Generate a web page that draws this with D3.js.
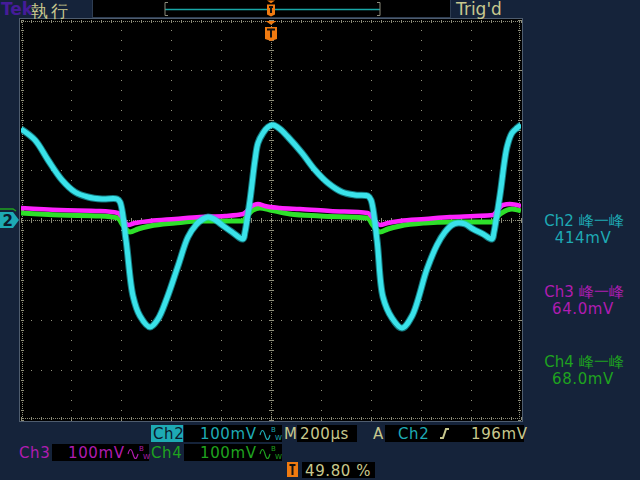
<!DOCTYPE html>
<html>
<head>
<meta charset="utf-8">
<script src="https://cdn.jsdelivr.net/npm/d3@7/dist/d3.min.js"></script>
<style>
html,body{margin:0;padding:0;background:#15233a;}
svg{display:block;}
text{font-family:"DejaVu Sans",sans-serif;}
</style>
</head>
<body>
<svg id="scope" width="640" height="480"></svg>
<script>
// ---------------- DATA ----------------
// time in µs (200 µs/div, trigger at centre), voltage in mV (100 mV/div)
const ch2Time = [-1000,-944,-892,-836,-784,-732,-676,-616,-604,-580,-552,-524,-484,-452,-416,-372,-332,-300,-272,-252,-228,-196,-156,-112,-104,-84,-64,-52,-32,-12,8,36,68,124,176,228,284,336,388,400,424,448,484,524,564,624,664,696,724,748,776,808,848,884,892,916,944,964,984,1000];
const ch2Mv   = [182,160,120,80,56,46,42,42,36,-40,-152,-192,-214,-198,-156,-92,-34,-10,2,6,2,-10,-24,-38,-24,40,120,154,174,186,190,182,166,134,100,74,56,50,48,40,-40,-154,-196,-216,-192,-98,-50,-24,-10,-6,-8,-18,-28,-38,-24,50,146,174,184,190];

const ch3Time = [-1000,-844,-684,-612,-596,-572,-544,-484,-384,-284,-184,-112,-96,-76,-52,-24,36,116,236,388,404,436,468,516,616,716,816,888,904,928,956,1000];
const ch3Mv   = [22,18,16,12,4,-12,-8,-4,0,4,6,10,16,26,30,26,22,20,16,12,4,-12,-8,-4,0,4,6,8,16,28,30,26];

const ch4Time = [-1000,-844,-684,-612,-596,-564,-532,-484,-384,-284,-184,-112,-96,-72,-44,-4,76,196,388,404,436,468,516,616,716,816,888,904,936,964,1000];
const ch4Mv   = [14,10,8,4,-8,-24,-18,-12,-6,-2,-2,-2,8,20,24,20,12,8,4,-8,-24,-18,-12,-6,-4,-4,-4,6,18,22,18];

const xDivTicks = d3.range(-1000, 1001, 200);   // 10 horizontal divisions
const yDivTicks = d3.range(-400, 401, 100);     // 8 vertical divisions

const measureNames  = ["Ch2 峰一峰", "Ch3 峰一峰", "Ch4 峰一峰"];
const measureValues = ["414mV", "64.0mV", "68.0mV"];
const scaleLabels   = ["100mV", "100mV", "100mV"];
const timebaseLabel = "200µs";
const triggerLevel  = "196mV";
const triggerPos    = "49.80 %";

// ---------------- COLOURS ----------------
const C = {
  bg:"#15233a", cyan:"#3ae2ea", mag:"#ff22ff", grn:"#2ee02a",
  tTeal:"#1eaab4", tMag:"#b01cb0", tGrn:"#1fa21f", khaki:"#c8c88e",
  orange:"#f07a10", grid:"#8e8e7a", tek:"#451c98"
};

const svg = d3.select("#scope");
svg.append("rect").attr("width",640).attr("height",480).attr("fill",C.bg);

// ---------------- SCALES ----------------
const x = d3.scaleLinear().domain([-1000,1000]).range([21,521]);
const y = d3.scaleLinear().domain([-400,400]).range([420,20]);

// graticule
const g = svg.append("g");
g.append("rect").attr("x",x(-1000)-1.5).attr("y",y(400)-1.5)
  .attr("width",x(1000)-x(-1000)+3).attr("height",y(-400)-y(400)+3)
  .attr("fill","#000").attr("stroke","#4e5c6e").attr("stroke-width",1);

const minorX = d3.range(-1000,1001,40);
const minorY = d3.range(-400,401,20);
xDivTicks.slice(1,-1).forEach(t=>{
  g.selectAll(null).data(d3.range(-400,401,20)).enter().append("rect")
    .attr("x",Math.round(x(t))).attr("y",d=>Math.round(y(d))).attr("width",1).attr("height",1)
    .attr("fill",C.grid);
});
yDivTicks.slice(1,-1).forEach(v=>{
  g.selectAll(null).data(d3.range(-1000,1001,40)).enter().append("rect")
    .attr("x",d=>Math.round(x(d))).attr("y",Math.round(y(v))).attr("width",1).attr("height",1)
    .attr("fill",C.grid);
});
g.selectAll(null).data(d3.range(-1000,1001,8)).enter().append("rect")
  .attr("x",d=>Math.round(x(d))).attr("y",Math.round(y(0))).attr("width",1).attr("height",1).attr("fill",C.grid);
g.selectAll(null).data(d3.range(-400,401,4)).enter().append("rect")
  .attr("x",Math.round(x(0))).attr("y",d=>Math.round(y(d))).attr("width",1).attr("height",1).attr("fill",C.grid);
g.selectAll(null).data(minorX).enter().append("line")
  .attr("x1",d=>Math.round(x(d))+0.5).attr("x2",d=>Math.round(x(d))+0.5)
  .attr("y1",y(0)-2).attr("y2",y(0)+3).attr("stroke",C.grid).attr("stroke-width",1);
g.selectAll(null).data(minorY).enter().append("line")
  .attr("y1",d=>Math.round(y(d))+0.5).attr("y2",d=>Math.round(y(d))+0.5)
  .attr("x1",x(0)-2).attr("x2",x(0)+3).attr("stroke",C.grid).attr("stroke-width",1);
g.selectAll(null).data(d3.range(-1000,1001,8)).enter().append("rect")
  .attr("x",d=>Math.round(x(d))).attr("y",y(400)+1).attr("width",1).attr("height",1).attr("fill",C.grid);
g.selectAll(null).data(d3.range(-1000,1001,8)).enter().append("rect")
  .attr("x",d=>Math.round(x(d))).attr("y",y(-400)-2).attr("width",1).attr("height",1).attr("fill",C.grid);
g.selectAll(null).data(d3.range(-400,401,4)).enter().append("rect")
  .attr("x",x(-1000)+1).attr("y",d=>Math.round(y(d))).attr("width",1).attr("height",1).attr("fill",C.grid);
g.selectAll(null).data(d3.range(-400,401,4)).enter().append("rect")
  .attr("x",x(1000)-2).attr("y",d=>Math.round(y(d))).attr("width",1).attr("height",1).attr("fill",C.grid);
g.selectAll(null).data(minorX).enter().append("line")
  .attr("x1",d=>Math.round(x(d))+0.5).attr("x2",d=>Math.round(x(d))+0.5)
  .attr("y1",y(400)).attr("y2",y(400)+3).attr("stroke",C.grid);
g.selectAll(null).data(minorX).enter().append("line")
  .attr("x1",d=>Math.round(x(d))+0.5).attr("x2",d=>Math.round(x(d))+0.5)
  .attr("y1",y(-400)-3).attr("y2",y(-400)).attr("stroke",C.grid);
g.selectAll(null).data(minorY).enter().append("line")
  .attr("y1",d=>Math.round(y(d))+0.5).attr("y2",d=>Math.round(y(d))+0.5)
  .attr("x1",x(-1000)).attr("x2",x(-1000)+3).attr("stroke",C.grid);
g.selectAll(null).data(minorY).enter().append("line")
  .attr("y1",d=>Math.round(y(d))+0.5).attr("y2",d=>Math.round(y(d))+0.5)
  .attr("x1",x(1000)-3).attr("x2",x(1000)).attr("stroke",C.grid);

// ---------------- TRACES ----------------
svg.append("clipPath").attr("id","plotclip").append("rect")
  .attr("x",x(-1000)).attr("y",y(400)).attr("width",x(1000)-x(-1000)).attr("height",y(-400)-y(400));
const traces = svg.append("g").attr("clip-path","url(#plotclip)");
const line = d3.line().x(d=>x(d[0])).y(d=>y(d[1])).curve(d3.curveMonotoneX);
const line2 = d3.line().x(d=>x(d[0])).y(d=>y(d[1])).curve(d3.curveCatmullRom.alpha(0.5));
const zip = (a,b)=>a.map((t,i)=>[t,b[i]]);

traces.append("path").datum(zip(ch4Time,ch4Mv)).attr("d",line)
  .attr("fill","none").attr("stroke",C.grn).attr("stroke-width",5).attr("stroke-linejoin","round");
traces.append("path").datum(zip(ch3Time,ch3Mv)).attr("d",line)
  .attr("fill","none").attr("stroke",C.mag).attr("stroke-width",4.5).attr("stroke-linejoin","round")
  .attr("transform","translate(0,-1)");
traces.append("path").datum(zip(ch2Time,ch2Mv)).attr("d",line2)
  .attr("fill","none").attr("stroke","#22c8d2").attr("stroke-width",7).attr("stroke-opacity",0.6).attr("stroke-linejoin","round");
traces.append("path").datum(zip(ch2Time,ch2Mv)).attr("d",line2)
  .attr("fill","none").attr("stroke",C.cyan).attr("stroke-width",5).attr("stroke-linejoin","round");

// ---------------- TOP BAR ----------------
svg.append("text").attr("x",1).attr("y",15).attr("fill",C.tek)
  .attr("font-family","Liberation Sans").attr("font-size",17).attr("font-weight","bold").text("Tek");
svg.append("text").attr("x",31).attr("y",17).attr("fill",C.khaki)
  .attr("font-family","Noto Sans CJK SC").attr("font-size",17).attr("letter-spacing",3).text("執行");
svg.append("rect").attr("x",92.5).attr("y",-1).attr("width",358).attr("height",18.5)
  .attr("fill","#000").attr("stroke","#2e3d52");
const rec0 = x(-1000) + (x(1000)-x(-1000))*0.288, rec1 = x(-1000) + (x(1000)-x(-1000))*0.718;
svg.append("line").attr("x1",rec0).attr("x2",rec1).attr("y1",9.5).attr("y2",9.5)
  .attr("stroke","#19a7a7").attr("stroke-width",1.5);
[[rec0,1],[rec1,-1]].forEach(([px,dir])=>{
  svg.append("path").attr("d",`M${px+3*dir},2.5 H${px} V15.5 H${px+3*dir}`)
    .attr("fill","none").attr("stroke","#8a8a7a");
});
function trigMarker(cx, ty, th, by, bh, bw){
  svg.append("path").attr("d",`M${cx-th},${ty} L${cx+th},${ty} L${cx},${ty+th*0.7} Z`).attr("fill",C.orange);
  svg.append("path").attr("d",`M${cx-bw/2},${by} H${cx+bw/2} V${by+bh} L${cx},${by+bh+2} L${cx-bw/2},${by+bh} Z`).attr("fill",C.orange);
  svg.append("path").attr("d",`M${cx-bw/2+2},${by+2.5} H${cx+bw/2-2} M${cx},${by+2.5} V${by+bh-1.5}`)
    .attr("stroke","#111").attr("stroke-width",2).attr("fill","none");
}
trigMarker(x(0), 0.5, 4, 4.5, 10, 8);
trigMarker(x(0), 21, 5.5, 27, 12, 12);
svg.append("text").attr("x",456).attr("y",15).attr("fill",C.khaki).attr("font-size",17).text("Trig'd");

// ---------------- CHANNEL 2 GROUND MARKER ----------------
const gy = y(0);
svg.append("path").attr("d",`M0,${gy-11} H13 L16,${gy-9}`).attr("fill","none").attr("stroke",C.tGrn).attr("stroke-width",1.5);
svg.append("path").attr("d",`M0,${gy-8} H13 L19,${gy} L13,${gy+8} H0 Z`).attr("fill",C.tTeal);
svg.append("text").attr("x",2.5).attr("y",gy+6).attr("fill","#0b1a2c").attr("font-size",15).attr("font-weight","bold").text("2");

// ---------------- RIGHT MEASUREMENTS ----------------
const mColors = [C.tTeal, C.tMag, C.tGrn];
const mY = [226, 297, 367];
measureNames.forEach((n,i)=>{
  svg.append("text").attr("x",584).attr("y",mY[i]).attr("text-anchor","middle")
    .attr("fill",mColors[i]).attr("font-size",15).attr("font-family","DejaVu Sans, Noto Sans CJK SC").text(n);
  svg.append("text").attr("x",583).attr("y",mY[i]+17).attr("text-anchor","middle")
    .attr("fill",mColors[i]).attr("font-size",15).attr("letter-spacing",0.6).text(measureValues[i]);
});

// ---------------- BOTTOM READOUTS ----------------
function box(x0,y0,w,h,fill){ svg.append("rect").attr("x",x0).attr("y",y0).attr("width",w).attr("height",h).attr("fill",fill||"#000"); }
function txt(x0,y0,s,col){ return svg.append("text").attr("x",x0).attr("y",y0).attr("fill",col).attr("font-size",15).attr("letter-spacing",0.6).text(s); }
function bw(x0,yb,col){
  svg.append("path").attr("d",`M${x0},${yb-4} q2.5,-9 5,0 t5,0`).attr("fill","none").attr("stroke",col).attr("stroke-width",1.2);
  svg.append("text").attr("x",x0+11).attr("y",yb-7).attr("fill",col).attr("font-size",7).text("B");
  svg.append("text").attr("x",x0+15).attr("y",yb+1).attr("fill",col).attr("font-size",7).text("W");
}
// row 1
box(151,425,32,17,C.tTeal); txt(153,439,"Ch2","#0b1a2c");
box(184,425,98,17); txt(200,439,scaleLabels[0],C.tTeal); bw(260,439,C.tTeal);
txt(284,439,"M",C.khaki);
box(297,425,60,17); txt(300,439,timebaseLabel,C.khaki);
txt(373,439,"A",C.khaki);
box(385,425,139,17); txt(398,439,"Ch2",C.tTeal);
svg.append("path").attr("d","M440,438 H443 L446,429 H449").attr("fill","none").attr("stroke",C.khaki).attr("stroke-width",2);
txt(471,439,triggerLevel,C.khaki);
// row 2
txt(19,458,"Ch3",C.tMag);
box(52,444,97,17); txt(68,458,scaleLabels[1],C.tMag); bw(128,458,C.tMag);
txt(151,458,"Ch4",C.tGrn);
box(184,444,98,17); txt(200,458,scaleLabels[2],C.tGrn); bw(260,458,C.tGrn);
// row 3
box(287,462,11,15,C.orange);
svg.append("path").attr("d","M289.5,465 H295.5 M292.5,465 V475").attr("stroke","#111").attr("stroke-width",2);
box(302,462,73,16); txt(305,476,triggerPos,C.khaki);
</script>
</body>
</html>
